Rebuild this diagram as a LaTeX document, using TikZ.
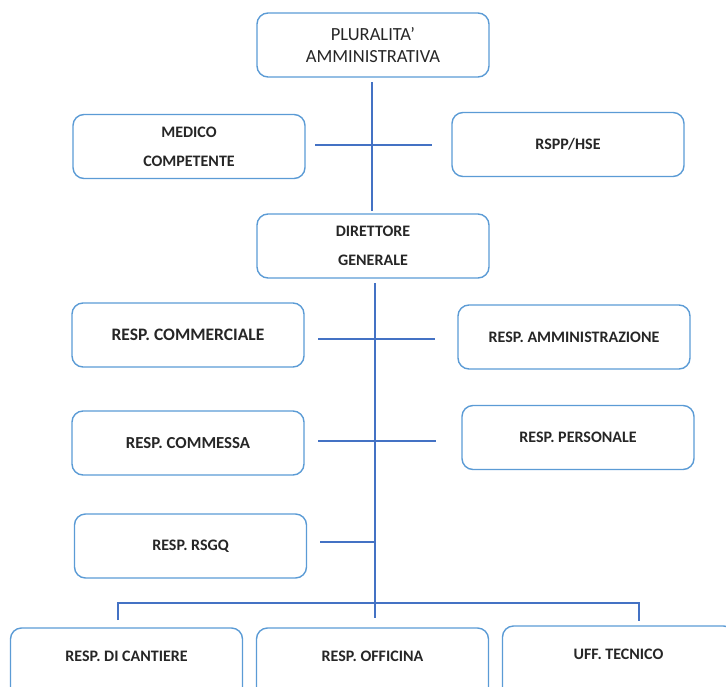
\documentclass[tikz,border=0pt]{standalone}
\usepackage{fontspec}
\setmainfont{Carlito}
\definecolor{boxblue}{HTML}{5B9BD5}
\definecolor{lineblue}{HTML}{4472C4}
\definecolor{txt}{HTML}{262626}
\begin{document}
\begin{tikzpicture}[x=1pt,y=-1pt,
  box/.style={draw=boxblue,line width=1.4pt,rounded corners=11pt,
    minimum width=232pt,minimum height=64pt,inner sep=0pt,text=txt,align=center,
    font=\bfseries\fontsize{16}{29}\selectfont},
  topbox/.style={box,font=\fontsize{18.5}{22}\selectfont},
  conn/.style={draw=lineblue,line width=1.8pt}]
\useasboundingbox (0,0) rectangle (726,686);
\clip (0,0) rectangle (726,686);
% boxes
\node[topbox] (plur) at (373,45) {PLURALITA’\\AMMINISTRATIVA};
\node[box] (med) at (189,146.5) {MEDICO\\COMPETENTE};
\node[box] (rspp) at (568,144.5) {RSPP/HSE};
\node[box] (dir) at (373,246) {DIRETTORE\\GENERALE};
\node[box,font=\bfseries\fontsize{17.5}{29}\selectfont] (comm) at (188,335) {RESP. COMMERCIALE};
\node[box] (amm) at (574,337) {RESP. AMMINISTRAZIONE};
\node[box,font=\bfseries\fontsize{16.8}{29}\selectfont] (cms) at (188,443) {RESP. COMMESSA};
\node[box] (pers) at (578,437.5) {RESP. PERSONALE};
\node[box] (rsgq) at (190.5,546) {RESP. RSGQ};
\node[box,minimum height=90pt,text depth=34pt] (cant) at (126.5,673) {RESP. DI CANTIERE};
\node[box,minimum height=90pt,text depth=34pt] (off) at (372.5,673) {RESP. OFFICINA};
\node[box,minimum height=90pt,text depth=34pt] (uff) at (618.5,671) {UFF. TECNICO};
% connector coordinates
\coordinate (t1a) at (372,82);
\coordinate (t1b) at (372,211);
\coordinate (h1a) at (315,145);
\coordinate (h1b) at (432,145);
\coordinate (t2a) at (375,283);
\coordinate (t2b) at (375,618);
\coordinate (h2a) at (318,339);
\coordinate (h2b) at (435,339);
\coordinate (h3a) at (318,441);
\coordinate (h3b) at (436,441);
\coordinate (h4a) at (320,542);
\coordinate (h4b) at (375,542);
\coordinate (busl) at (118,603);
\coordinate (busr) at (639,603);
\coordinate (dl) at (118,620);
\coordinate (dr) at (639,621);
% connectors
\draw[conn] (t1a) -- (t1b);
\draw[conn] (h1a) -- (h1b);
\draw[conn] (t2a) -- (t2b);
\draw[conn] (h2a) -- (h2b);
\draw[conn] (h3a) -- (h3b);
\draw[conn] (h4a) -- (h4b);
\draw[conn] (dl) -- (busl) -- (busr) -- (dr);
\end{tikzpicture}
\end{document}
